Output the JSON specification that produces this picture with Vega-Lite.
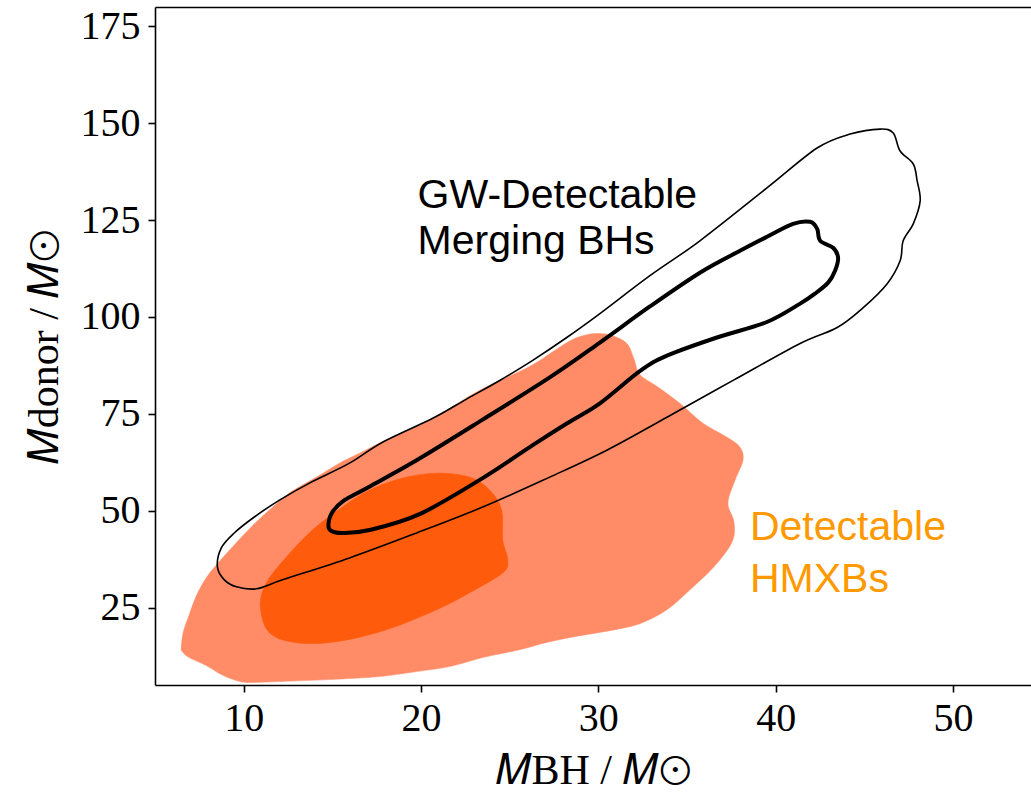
{
  "$schema": "https://vega.github.io/schema/vega-lite/v6.json",
  "width": 876,
  "height": 678,
  "autosize": {"type": "none"},
  "padding": {"left": 155, "top": 7, "right": 0, "bottom": 117},
  "background": "white",
  "config": {
    "view": {"stroke": null},
    "axis": {
      "grid": false,
      "domainColor": "black",
      "domainWidth": 1.6,
      "tickColor": "black",
      "tickWidth": 1.6,
      "tickSize": 7,
      "labelFont": "Liberation Serif",
      "labelFontSize": 40,
      "labelColor": "black",
      "titleFont": "Liberation Serif",
      "titleFontSize": 42,
      "titleFontWeight": "normal",
      "titleColor": "black"
    }
  },
  "datasets": {
    "contours": [
      {"s": "lo", "i": 1, "x": 6.48, "y": 14.64},
      {"s": "lo", "i": 2, "x": 6.60, "y": 18.76},
      {"s": "lo", "i": 3, "x": 6.93, "y": 23.13},
      {"s": "lo", "i": 4, "x": 7.33, "y": 28.02},
      {"s": "lo", "i": 5, "x": 7.89, "y": 32.66},
      {"s": "lo", "i": 6, "x": 8.46, "y": 36.0},
      {"s": "lo", "i": 7, "x": 9.47, "y": 41.15},
      {"s": "lo", "i": 8, "x": 10.43, "y": 45.79},
      {"s": "lo", "i": 9, "x": 11.45, "y": 50.16},
      {"s": "lo", "i": 10, "x": 12.58, "y": 54.54},
      {"s": "lo", "i": 11, "x": 14.11, "y": 58.66},
      {"s": "lo", "i": 12, "x": 15.40, "y": 62.26},
      {"s": "lo", "i": 13, "x": 16.53, "y": 64.83},
      {"s": "lo", "i": 14, "x": 18.23, "y": 68.69},
      {"s": "lo", "i": 15, "x": 20.49, "y": 73.33},
      {"s": "lo", "i": 16, "x": 23.31, "y": 81.05},
      {"s": "lo", "i": 17, "x": 26.13, "y": 87.23},
      {"s": "lo", "i": 18, "x": 27.54, "y": 91.34},
      {"s": "lo", "i": 19, "x": 28.67, "y": 94.43},
      {"s": "lo", "i": 20, "x": 29.80, "y": 95.72},
      {"s": "lo", "i": 21, "x": 30.76, "y": 95.21},
      {"s": "lo", "i": 22, "x": 31.61, "y": 93.15},
      {"s": "lo", "i": 23, "x": 32.00, "y": 89.29},
      {"s": "lo", "i": 24, "x": 32.34, "y": 85.17},
      {"s": "lo", "i": 25, "x": 33.30, "y": 82.08},
      {"s": "lo", "i": 26, "x": 34.60, "y": 77.70},
      {"s": "lo", "i": 27, "x": 35.90, "y": 72.55},
      {"s": "lo", "i": 28, "x": 37.26, "y": 68.95},
      {"s": "lo", "i": 29, "x": 37.99, "y": 66.38},
      {"s": "lo", "i": 30, "x": 38.16, "y": 63.03},
      {"s": "lo", "i": 31, "x": 37.71, "y": 57.88},
      {"s": "lo", "i": 32, "x": 37.31, "y": 51.96},
      {"s": "lo", "i": 33, "x": 37.65, "y": 47.07},
      {"s": "lo", "i": 34, "x": 37.54, "y": 41.92},
      {"s": "lo", "i": 35, "x": 36.52, "y": 35.49},
      {"s": "lo", "i": 36, "x": 35.17, "y": 29.57},
      {"s": "lo", "i": 37, "x": 33.87, "y": 24.42},
      {"s": "lo", "i": 38, "x": 32.34, "y": 20.82},
      {"s": "lo", "i": 39, "x": 30.65, "y": 19.02},
      {"s": "lo", "i": 40, "x": 28.96, "y": 17.73},
      {"s": "lo", "i": 41, "x": 27.26, "y": 16.18},
      {"s": "lo", "i": 42, "x": 25.57, "y": 14.13},
      {"s": "lo", "i": 43, "x": 23.48, "y": 12.07},
      {"s": "lo", "i": 44, "x": 21.62, "y": 9.75},
      {"s": "lo", "i": 45, "x": 19.75, "y": 8.46},
      {"s": "lo", "i": 46, "x": 17.66, "y": 7.18},
      {"s": "lo", "i": 47, "x": 14.84, "y": 6.40},
      {"s": "lo", "i": 48, "x": 12.02, "y": 5.89},
      {"s": "lo", "i": 49, "x": 10.32, "y": 5.63},
      {"s": "lo", "i": 50, "x": 9.59, "y": 6.15},
      {"s": "lo", "i": 51, "x": 8.74, "y": 7.69},
      {"s": "lo", "i": 52, "x": 7.89, "y": 10.01},
      {"s": "lo", "i": 53, "x": 6.93, "y": 12.07},
      {"s": "lo", "i": 54, "x": 6.54, "y": 13.61},

      {"s": "do", "i": 1, "x": 20.88, "y": 59.68},
      {"s": "do", "i": 2, "x": 22.74, "y": 58.66},
      {"s": "do", "i": 3, "x": 23.87, "y": 55.31},
      {"s": "do", "i": 4, "x": 24.55, "y": 50.16},
      {"s": "do", "i": 5, "x": 24.61, "y": 42.44},
      {"s": "do", "i": 6, "x": 24.89, "y": 37.29},
      {"s": "do", "i": 7, "x": 24.61, "y": 33.94},
      {"s": "do", "i": 8, "x": 22.74, "y": 28.80},
      {"s": "do", "i": 9, "x": 20.88, "y": 24.42},
      {"s": "do", "i": 10, "x": 18.06, "y": 19.27},
      {"s": "do", "i": 11, "x": 15.23, "y": 16.18},
      {"s": "do", "i": 12, "x": 12.98, "y": 15.93},
      {"s": "do", "i": 13, "x": 11.45, "y": 18.50},
      {"s": "do", "i": 14, "x": 10.94, "y": 25.19},
      {"s": "do", "i": 15, "x": 11.28, "y": 31.37},
      {"s": "do", "i": 16, "x": 12.41, "y": 38.06},
      {"s": "do", "i": 17, "x": 13.88, "y": 45.01},
      {"s": "do", "i": 18, "x": 15.57, "y": 50.93},
      {"s": "do", "i": 19, "x": 17.10, "y": 55.31},
      {"s": "do", "i": 20, "x": 18.96, "y": 58.40},

      {"s": "to", "i": 1, "x": 8.52, "y": 35.49},
      {"s": "to", "i": 2, "x": 8.74, "y": 40.38},
      {"s": "to", "i": 3, "x": 9.47, "y": 44.24},
      {"s": "to", "i": 4, "x": 10.60, "y": 48.36},
      {"s": "to", "i": 5, "x": 12.02, "y": 52.73},
      {"s": "to", "i": 6, "x": 13.71, "y": 57.11},
      {"s": "to", "i": 7, "x": 15.97, "y": 62.26},
      {"s": "to", "i": 8, "x": 17.83, "y": 67.66},
      {"s": "to", "i": 9, "x": 20.66, "y": 73.84},
      {"s": "to", "i": 10, "x": 22.57, "y": 78.80},
      {"s": "to", "i": 11, "x": 24.44, "y": 83.60},
      {"s": "to", "i": 12, "x": 26.30, "y": 88.80},
      {"s": "to", "i": 13, "x": 28.22, "y": 94.69},
      {"s": "to", "i": 14, "x": 30.09, "y": 100.87},
      {"s": "to", "i": 15, "x": 32.91, "y": 110.65},
      {"s": "to", "i": 16, "x": 35.73, "y": 119.66},
      {"s": "to", "i": 17, "x": 39.51, "y": 133.30},
      {"s": "to", "i": 18, "x": 42.34, "y": 143.60},
      {"s": "to", "i": 19, "x": 44.20, "y": 147.20},
      {"s": "to", "i": 20, "x": 45.90, "y": 148.49},
      {"s": "to", "i": 21, "x": 46.63, "y": 147.46},
      {"s": "to", "i": 22, "x": 47.02, "y": 142.82},
      {"s": "to", "i": 23, "x": 47.76, "y": 139.48},
      {"s": "to", "i": 24, "x": 47.98, "y": 135.10},
      {"s": "to", "i": 25, "x": 48.15, "y": 129.95},
      {"s": "to", "i": 26, "x": 47.76, "y": 124.03},
      {"s": "to", "i": 27, "x": 47.19, "y": 119.66},
      {"s": "to", "i": 28, "x": 47.02, "y": 114.51},
      {"s": "to", "i": 29, "x": 46.29, "y": 108.59},
      {"s": "to", "i": 30, "x": 44.94, "y": 102.41},
      {"s": "to", "i": 31, "x": 43.47, "y": 97.27},
      {"s": "to", "i": 32, "x": 41.38, "y": 93.15},
      {"s": "to", "i": 33, "x": 37.60, "y": 83.62},
      {"s": "to", "i": 34, "x": 33.87, "y": 74.10},
      {"s": "to", "i": 35, "x": 30.48, "y": 65.60},
      {"s": "to", "i": 36, "x": 27.26, "y": 58.66},
      {"s": "to", "i": 37, "x": 23.48, "y": 50.93},
      {"s": "to", "i": 38, "x": 19.75, "y": 44.24},
      {"s": "to", "i": 39, "x": 15.97, "y": 37.81},
      {"s": "to", "i": 40, "x": 12.19, "y": 32.14},
      {"s": "to", "i": 41, "x": 10.72, "y": 29.83},
      {"s": "to", "i": 42, "x": 9.59, "y": 30.34},
      {"s": "to", "i": 43, "x": 8.91, "y": 32.14},

      {"s": "ti", "i": 1, "x": 14.78, "y": 46.30},
      {"s": "ti", "i": 2, "x": 15.00, "y": 49.60},
      {"s": "ti", "i": 3, "x": 15.68, "y": 52.70},
      {"s": "ti", "i": 4, "x": 16.93, "y": 55.80},
      {"s": "ti", "i": 5, "x": 19.75, "y": 63.00},
      {"s": "ti", "i": 6, "x": 23.48, "y": 73.50},
      {"s": "ti", "i": 7, "x": 27.26, "y": 84.40},
      {"s": "ti", "i": 8, "x": 30.09, "y": 93.40},
      {"s": "ti", "i": 9, "x": 32.91, "y": 102.70},
      {"s": "ti", "i": 10, "x": 35.73, "y": 111.42},
      {"s": "ti", "i": 11, "x": 37.99, "y": 117.08},
      {"s": "ti", "i": 12, "x": 39.51, "y": 120.69},
      {"s": "ti", "i": 13, "x": 40.98, "y": 124.03},
      {"s": "ti", "i": 14, "x": 41.94, "y": 124.55},
      {"s": "ti", "i": 15, "x": 42.34, "y": 122.75},
      {"s": "ti", "i": 16, "x": 42.51, "y": 119.66},
      {"s": "ti", "i": 17, "x": 43.24, "y": 117.86},
      {"s": "ti", "i": 18, "x": 43.52, "y": 115.28},
      {"s": "ti", "i": 19, "x": 43.35, "y": 111.94},
      {"s": "ti", "i": 20, "x": 42.96, "y": 108.85},
      {"s": "ti", "i": 21, "x": 42.22, "y": 106.02},
      {"s": "ti", "i": 22, "x": 41.38, "y": 103.44},
      {"s": "ti", "i": 23, "x": 39.51, "y": 98.70},
      {"s": "ti", "i": 24, "x": 36.69, "y": 94.69},
      {"s": "ti", "i": 25, "x": 33.87, "y": 90.00},
      {"s": "ti", "i": 26, "x": 32.34, "y": 86.00},
      {"s": "ti", "i": 27, "x": 30.09, "y": 77.70},
      {"s": "ti", "i": 28, "x": 28.22, "y": 72.50},
      {"s": "ti", "i": 29, "x": 26.30, "y": 66.90},
      {"s": "ti", "i": 30, "x": 23.48, "y": 58.40},
      {"s": "ti", "i": 31, "x": 19.92, "y": 49.10},
      {"s": "ti", "i": 32, "x": 17.10, "y": 45.01},
      {"s": "ti", "i": 33, "x": 15.57, "y": 44.24},
      {"s": "ti", "i": 34, "x": 14.95, "y": 44.76}
    ],
    "labels": [
      {"g": "gw", "label": "GW-Detectable", "x": 19.81, "y": 128.15},
      {"g": "gw", "label": "Merging BHs", "x": 19.81, "y": 116.31},
      {"g": "hmxb", "label": "Detectable", "x": 38.55, "y": 42.44},
      {"g": "hmxb", "label": "HMXBs", "x": 38.55, "y": 29.05}
    ]
  },
  "resolve": {"axis": {"x": "independent"}},
  "layer": [
    {
      "data": {"name": "contours"},
      "transform": [{"filter": "datum.s === 'lo'"}],
      "mark": {"type": "line", "interpolate": "cardinal-closed", "fill": "#FF8C66", "stroke": "#FF8C66", "strokeWidth": 0.5},
      "encoding": {
        "x": {"field": "x", "type": "quantitative", "scale": {"domain": [5, 54.4], "nice": false, "zero": false},
          "axis": {"values": [10, 20, 30, 40, 50], "title": "𝑀BH / 𝑀⊙", "labelPadding": 6, "titlePadding": 12}},
        "y": {"field": "y", "type": "quantitative", "scale": {"domain": [5, 180], "nice": false, "zero": false},
          "axis": {"values": [25, 50, 75, 100, 125, 150, 175], "title": "𝑀donor / 𝑀⊙", "labelPadding": 8, "titlePadding": 14}},
        "order": {"field": "i", "type": "quantitative"}
      }
    },
    {
      "data": {"name": "contours"},
      "transform": [{"filter": "datum.s === 'do'"}],
      "mark": {"type": "line", "interpolate": "cardinal-closed", "fill": "#FF5B0D", "stroke": "#FF5B0D", "strokeWidth": 0.5},
      "encoding": {
        "x": {"field": "x", "type": "quantitative", "axis": null},
        "y": {"field": "y", "type": "quantitative"},
        "order": {"field": "i", "type": "quantitative"}
      }
    },
    {
      "data": {"name": "contours"},
      "transform": [{"filter": "datum.s === 'to'"}],
      "mark": {"type": "line", "interpolate": "cardinal-closed", "color": "black", "strokeWidth": 1.6},
      "encoding": {
        "x": {"field": "x", "type": "quantitative", "axis": null},
        "y": {"field": "y", "type": "quantitative"},
        "order": {"field": "i", "type": "quantitative"}
      }
    },
    {
      "data": {"name": "contours"},
      "transform": [{"filter": "datum.s === 'ti'"}],
      "mark": {"type": "line", "interpolate": "cardinal-closed", "color": "black", "strokeWidth": 4},
      "encoding": {
        "x": {"field": "x", "type": "quantitative", "axis": null},
        "y": {"field": "y", "type": "quantitative"},
        "order": {"field": "i", "type": "quantitative"}
      }
    },
    {
      "data": {"name": "labels"},
      "transform": [{"filter": "datum.g === 'gw'"}],
      "mark": {"type": "text", "align": "left", "baseline": "alphabetic", "font": "Liberation Sans", "fontSize": 41, "color": "black"},
      "encoding": {
        "x": {"field": "x", "type": "quantitative", "axis": {"orient": "top", "labels": false, "ticks": false, "title": null, "domain": true}},
        "y": {"field": "y", "type": "quantitative"},
        "text": {"field": "label"}
      }
    },
    {
      "data": {"name": "labels"},
      "transform": [{"filter": "datum.g === 'hmxb'"}],
      "mark": {"type": "text", "align": "left", "baseline": "alphabetic", "font": "Liberation Sans", "fontSize": 41, "color": "#FF9900"},
      "encoding": {
        "x": {"field": "x", "type": "quantitative", "axis": null},
        "y": {"field": "y", "type": "quantitative"},
        "text": {"field": "label"}
      }
    }
  ]
}
